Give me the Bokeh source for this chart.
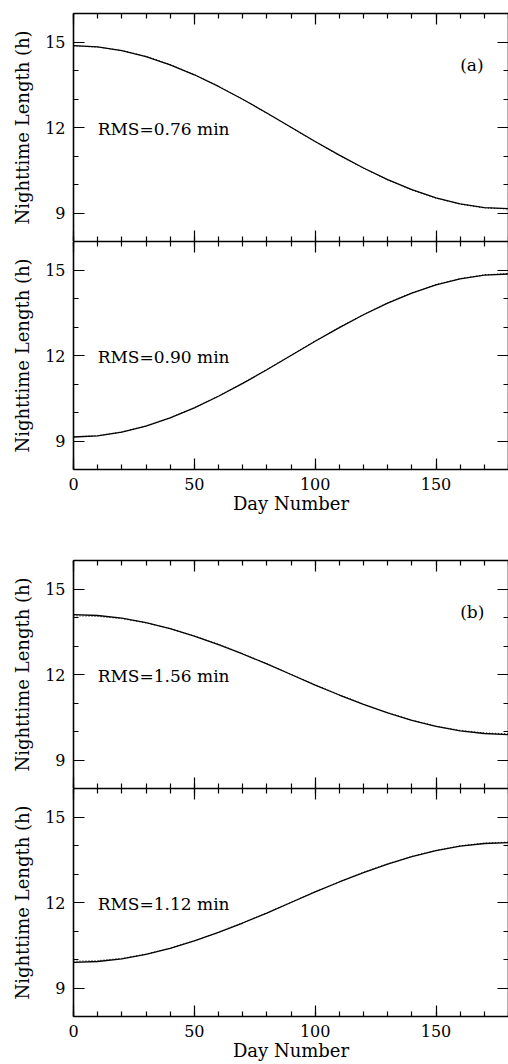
from bokeh.plotting import figure
from bokeh.models import FixedTicker, LinearAxis, Label, CustomJSTickFormatter
from bokeh.layouts import column
from bokeh.embed import file_html
from bokeh.resources import INLINE

# ---- data ----
days = [0, 10, 20, 30, 40, 50, 60, 70, 80, 90, 100, 110, 120, 130, 140, 150, 160, 170, 180]

a1_obs = [14.87, 14.83, 14.70, 14.49, 14.20, 13.85, 13.44, 12.99, 12.51, 12.01,
          11.51, 11.03, 10.58, 10.17, 9.82, 9.53, 9.32, 9.19, 9.15]
a1_mod = [14.86, 14.82, 14.70, 14.50, 14.21, 13.86, 13.45, 12.99, 12.50, 12.00,
          11.50, 11.02, 10.57, 10.16, 9.81, 9.52, 9.31, 9.18, 9.14]

a2_obs = [9.14, 9.18, 9.31, 9.52, 9.81, 10.16, 10.57, 11.02, 11.50, 12.00,
          12.50, 12.98, 13.43, 13.84, 14.19, 14.48, 14.69, 14.82, 14.86]
a2_mod = [9.15, 9.19, 9.32, 9.53, 9.82, 10.17, 10.58, 11.03, 11.51, 12.01,
          12.51, 12.99, 13.44, 13.85, 14.20, 14.49, 14.70, 14.83, 14.87]

b1_obs = [14.10, 14.07, 13.98, 13.82, 13.61, 13.35, 13.05, 12.72, 12.37, 12.00,
          11.63, 11.28, 10.95, 10.65, 10.39, 10.18, 10.02, 9.93, 9.89]
b1_mod = [14.06, 14.04, 13.96, 13.81, 13.61, 13.35, 13.06, 12.73, 12.38, 12.01,
          11.64, 11.29, 10.96, 10.66, 10.40, 10.19, 10.04, 9.95, 9.92]

b2_obs = [9.90, 9.93, 10.02, 10.18, 10.39, 10.65, 10.95, 11.28, 11.63, 12.00,
          12.37, 12.72, 13.05, 13.35, 13.61, 13.82, 13.98, 14.07, 14.10]
b2_mod = [9.94, 9.96, 10.04, 10.19, 10.40, 10.66, 10.96, 11.29, 11.64, 12.01,
          12.38, 12.73, 13.06, 13.36, 13.62, 13.83, 13.99, 14.08, 14.12]

rms_texts = ["RMS=0.76 min", "RMS=0.90 min", "RMS=1.56 min", "RMS=1.12 min"]
panel_tags = ["(a)", "", "(b)", ""]
x_major = [0, 50, 100, 150]
x_minor = [0, 10, 20, 30, 40, 50, 60, 70, 80, 90, 100, 110, 120, 130, 140, 150, 160, 170, 180]
y_major = [9, 12, 15]
y_minor = [8, 9, 10, 11, 12, 13, 14, 15, 16]
x_label = "Day Number"
y_label = "Nighttime Length (h)"

FONT = "DejaVu Serif"


def style_axis(ax, show_labels):
    ax.axis_line_width = 1.6
    ax.axis_line_color = "black"
    ax.major_tick_in = 11
    ax.major_tick_out = 0
    ax.minor_tick_in = 5
    ax.minor_tick_out = 0
    ax.major_tick_line_width = 1.2
    ax.minor_tick_line_width = 1.2
    ax.major_tick_line_color = "black"
    ax.minor_tick_line_color = "black"
    if show_labels:
        ax.major_label_text_font = FONT
        ax.major_label_text_font_size = "16px"
        ax.major_label_text_color = "black"
        ax.major_label_standoff = 8
    else:
        ax.formatter = CustomJSTickFormatter(code="return '';")
        ax.major_label_text_font_size = "1px"
        ax.major_label_standoff = 0
    ax.axis_label_text_font = FONT
    ax.axis_label_text_font_size = "18px"
    ax.axis_label_text_font_style = "normal"
    ax.axis_label_text_color = "black"


def make_panel(obs, mod, rms, tag, show_x, b_top, b_bottom):
    p = figure(width=508, height=b_top + 228 + b_bottom,
               x_range=(0, 180), y_range=(8, 16),
               output_backend="svg", toolbar_location=None,
               x_axis_location=None, y_axis_location=None,
               min_border_left=73, min_border_right=0,
               min_border_top=b_top, min_border_bottom=b_bottom)
    p.outline_line_color = None
    p.background_fill_color = "white"
    p.border_fill_color = "white"
    p.xgrid.visible = False
    p.ygrid.visible = False

    xt = FixedTicker(ticks=x_major, minor_ticks=x_minor)
    yt = FixedTicker(ticks=y_major, minor_ticks=y_minor)

    left = LinearAxis(ticker=yt, axis_label=y_label)
    style_axis(left, True)
    left.axis_label_standoff = 9
    p.add_layout(left, "left")

    right = LinearAxis(ticker=yt)
    style_axis(right, False)
    p.add_layout(right, "right")

    top = LinearAxis(ticker=xt)
    style_axis(top, False)
    p.add_layout(top, "above")

    bottom = LinearAxis(ticker=xt, axis_label=x_label if show_x else None)
    style_axis(bottom, show_x)
    bottom.axis_label_standoff = 0
    p.add_layout(bottom, "below")

    p.line(days, obs, line_color="black", line_width=1.3)
    p.line(days, mod, line_color="black", line_width=1.0, line_dash="1 2")

    p.add_layout(Label(x=10, y=11.95, text=rms, text_font=FONT,
                       text_font_size="17px", text_color="black",
                       text_baseline="alphabetic"))
    if tag:
        p.add_layout(Label(x=160, y=14.2, text=tag, text_font=FONT,
                           text_font_size="17px", text_color="black",
                           text_baseline="middle"))
    return p


p1 = make_panel(a1_obs, a1_mod, rms_texts[0], panel_tags[0], False, 13, 0)
p2 = make_panel(a2_obs, a2_mod, rms_texts[1], panel_tags[1], True, 0, 89)
p3 = make_panel(b1_obs, b1_mod, rms_texts[2], panel_tags[2], False, 2, 0)
p4 = make_panel(b2_obs, b2_mod, rms_texts[3], panel_tags[3], True, 0, 48)

layout = column(p1, p2, p3, p4, spacing=0)

open("out.html", "w").write(file_html(layout, INLINE))
